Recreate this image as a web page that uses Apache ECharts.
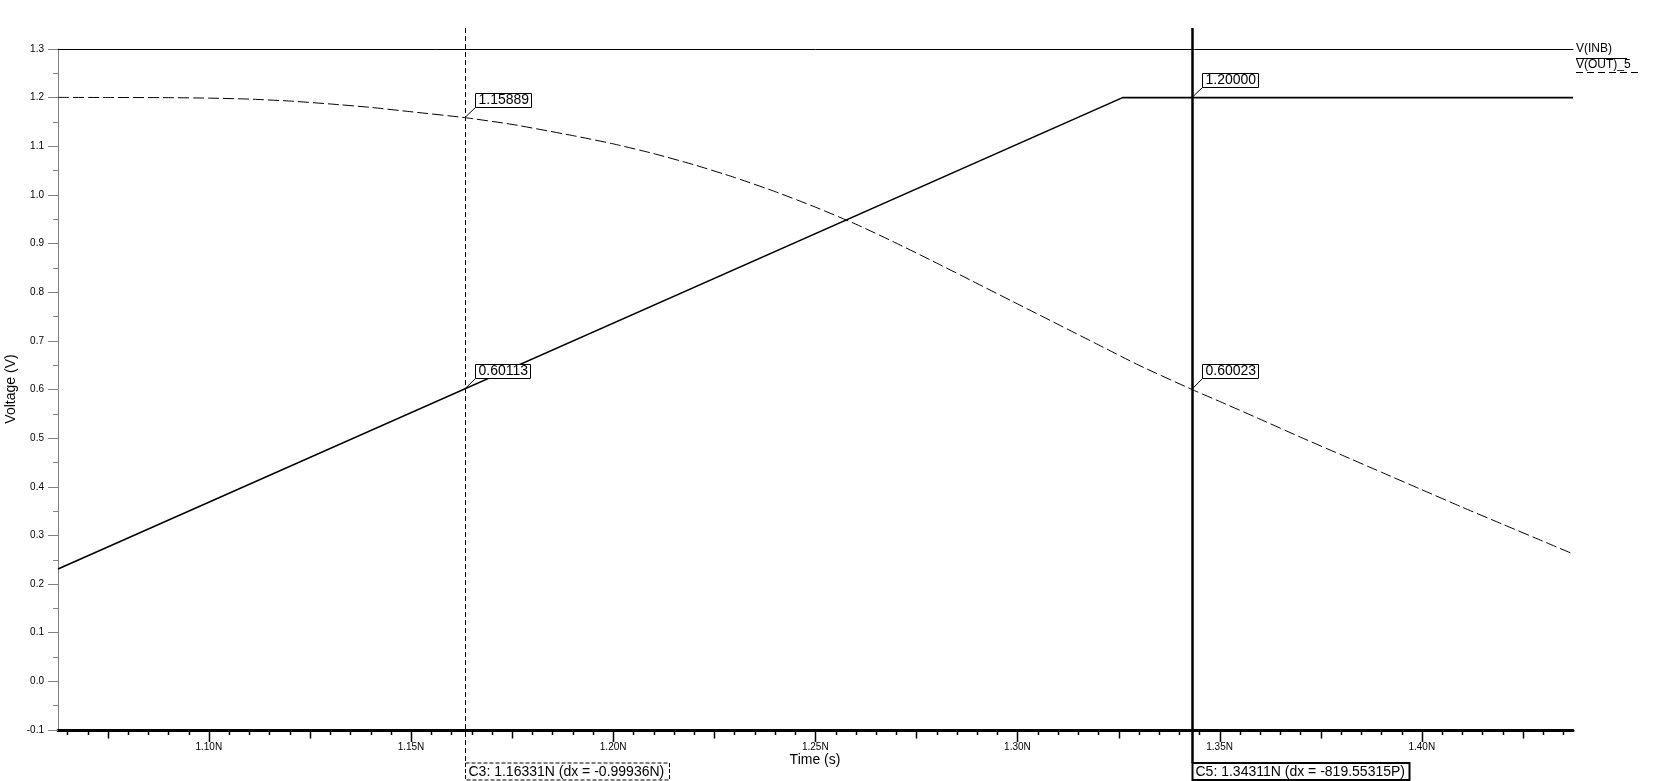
<!DOCTYPE html>
<html><head><meta charset="utf-8">
<script src="https://cdn.jsdelivr.net/npm/echarts@6/dist/echarts.min.js"></script>
<style>html,body{margin:0;padding:0;background:#fff}#c{width:1678px;height:781px}</style>
</head><body><div id="c"></div>
<script>
// ---- data ----
const timeMin = 1.0627, timeMax = 1.4374;
const voltMin = -0.1, voltMax = 1.3;
const vinbTime  = [1.0627, 1.3260, 1.4374];
const vinbValue = [0.2308, 1.2000, 1.2000];
const voutTime  = [1.0627, 1.075, 1.09, 1.10, 1.11, 1.12, 1.13, 1.14, 1.15, 1.16331, 1.175, 1.19, 1.20, 1.21, 1.22, 1.23, 1.24, 1.25, 1.26, 1.27, 1.28, 1.29, 1.30, 1.31, 1.32, 1.33, 1.34311, 1.35, 1.36, 1.37, 1.38, 1.39, 1.40, 1.41, 1.42, 1.43, 1.4374];
const voutValue = [1.2005, 1.2003, 1.2000, 1.1990, 1.1970, 1.1930, 1.1870, 1.1800, 1.1710, 1.15889, 1.1450, 1.1220, 1.1050, 1.0850, 1.0620, 1.0360, 1.0070, 0.9750, 0.9400, 0.9010, 0.8600, 0.8180, 0.7760, 0.7340, 0.6920, 0.6500, 0.60023, 0.5755, 0.5390, 0.5020, 0.4660, 0.4300, 0.3940, 0.3580, 0.3230, 0.2880, 0.2620];
const xLabelValues = [1.10, 1.15, 1.20, 1.25, 1.30, 1.35, 1.40];
const xTickLabels  = ['1.10N', '1.15N', '1.20N', '1.25N', '1.30N', '1.35N', '1.40N'];
const xMinorStep = 0.005;
const legendNames = ['V(INB)', 'V(OUT)_5'];
const cursorNames = ['C3', 'C5'];
const cursorTimes = [1.16331, 1.34311];
const cursorDx    = ['-0.99936N', '-819.55315P'];
const cursorInb   = [0.60113, 1.20000];
const cursorOut   = [1.15889, 0.60023];

// ---- helpers ----
const FONT = '"Liberation Sans", Arial, sans-serif';
const mctx = document.createElement('canvas').getContext('2d');
function measure(t, f) { mctx.font = f; return mctx.measureText(t).width; }

const tickData = [];
for (let k = Math.ceil(timeMin / xMinorStep - 1e-9); k * xMinorStep <= timeMax + 1e-9; k++) {
  const t = +(k * xMinorStep).toFixed(4);
  const li = xLabelValues.findIndex(v => Math.abs(v - t) < 1e-7);
  const kind = li >= 0 ? 2 : (k % 5 === 0 ? 1 : 0);
  tickData.push([t, kind, li]);
}

function renderTick(params, api) {
  const t = api.value(0), kind = api.value(1), li = api.value(2);
  const p = api.coord([t, voltMin]);
  const len = kind === 2 ? 12 : (kind === 1 ? 8.5 : 5);
  const x = Math.round(p[0]) + 0.5;
  const children = [{ type: 'line', shape: { x1: x, y1: p[1], x2: x, y2: p[1] + len }, style: { stroke: '#000', lineWidth: 1.5 } }];
  if (kind === 2) {
    children.push({ type: 'text', style: { text: xTickLabels[li], x: p[0], y: p[1] + 12, fill: '#000', font: '10px ' + FONT, textAlign: 'center', textVerticalAlign: 'top', align: 'center', verticalAlign: 'top' } });
  }
  return { type: 'group', children };
}

function valueLabel(children, api, t, v) {
  const p = api.coord([t, v]);
  const txt = v.toFixed(5);
  const f = '14px ' + FONT;
  const w = Math.round(measure(txt, f)) + 5;
  const bx = Math.round(p[0]) + 10.5, by = Math.round(p[1]) - 10.5;
  children.push({ type: 'line', shape: { x1: p[0], y1: p[1], x2: bx, y2: by }, style: { stroke: '#000', lineWidth: 1 } });
  children.push({ type: 'rect', shape: { x: bx, y: by - 14, width: w, height: 14 }, style: { fill: '#fff', stroke: '#000', lineWidth: 1 } });
  children.push({ type: 'text', style: { text: txt, x: bx + 3, y: by - 7, fill: '#000', font: f, textAlign: 'left', textVerticalAlign: 'middle', align: 'left', verticalAlign: 'middle' } });
}

function renderCursor(params, api) {
  const i = params.dataIndex;
  const t = api.value(0);
  const cs = params.coordSys;
  const x = Math.round(api.coord([t, 0])[0]) + 0.5;
  const top = cs.y - 21;
  const boxTop = cs.y + cs.height + 33;
  const dashed = i === 0;
  const children = [];
  children.push({ type: 'line', shape: { x1: x, y1: top, x2: x, y2: boxTop }, style: { stroke: '#000', lineWidth: dashed ? 1 : 2.5, lineDash: dashed ? [5, 3] : null } });
  const txt = cursorNames[i] + ': ' + t.toFixed(5) + 'N (dx = ' + cursorDx[i] + ')';
  const f = '14px ' + FONT;
  const w = Math.round(measure(txt, f)) + 8;
  children.push({ type: 'rect', shape: { x: x, y: boxTop, width: w, height: 17 }, style: { fill: '#fff', stroke: '#000', lineWidth: dashed ? 1 : 2, lineDash: dashed ? [4, 2] : null } });
  children.push({ type: 'text', style: { text: txt, x: x + 3, y: boxTop + 9, fill: '#000', font: f, textAlign: 'left', textVerticalAlign: 'middle', align: 'left', verticalAlign: 'middle' } });
  valueLabel(children, api, t, cursorOut[i]);
  valueLabel(children, api, t, cursorInb[i]);
  return { type: 'group', children };
}

const chart = echarts.init(document.getElementById('c'), null, { renderer: 'canvas' });
chart.setOption({
  animation: false,
  backgroundColor: '#fff',
  grid: { left: 58, right: 105, top: 49, bottom: 51, containLabel: false },
  xAxis: [
    { type: 'value', min: timeMin, max: timeMax, position: 'bottom',
      axisLine: { show: true, onZero: false, lineStyle: { color: '#000', width: 3 } },
      axisTick: { show: false }, axisLabel: { show: false }, splitLine: { show: false } },
    { type: 'value', min: timeMin, max: timeMax, position: 'top',
      axisLine: { show: true, onZero: false, lineStyle: { color: '#000', width: 1 } },
      axisTick: { show: false }, axisLabel: { show: false }, splitLine: { show: false } }
  ],
  yAxis: {
    type: 'value', min: voltMin, max: voltMax, interval: 0.1,
    axisLine: { show: true, onZero: false, lineStyle: { color: '#808080', width: 1 } },
    axisTick: { show: true, length: 10, lineStyle: { color: '#808080', width: 1 } },
    minorTick: { show: true, splitNumber: 2, length: 5, lineStyle: { color: '#808080', width: 1 } },
    axisLabel: { color: '#000', fontSize: 10, fontFamily: FONT, margin: 14, showMinLabel: true, showMaxLabel: true,
      formatter: v => v.toFixed(1) },
    splitLine: { show: false }, minorSplitLine: { show: false }
  },
  series: [
    { name: legendNames[0], type: 'line', xAxisIndex: 0, showSymbol: false, symbol: 'none',
      data: vinbTime.map((t, i) => [t, vinbValue[i]]),
      lineStyle: { color: '#000', width: 1.6 }, z: 3 },
    { name: legendNames[1], type: 'line', xAxisIndex: 0, showSymbol: false, symbol: 'none', smooth: 0.2,
      data: voutTime.map((t, i) => [t, voutValue[i]]),
      lineStyle: { color: '#000', width: 1, type: [11, 4] }, z: 3 },
    { type: 'custom', name: 'ticks', xAxisIndex: 0, clip: false, silent: true,
      data: tickData, renderItem: renderTick, z: 4 },
    { type: 'custom', name: 'cursors', xAxisIndex: 0, clip: false, silent: true,
      data: cursorTimes.map(t => [t]), renderItem: renderCursor, z: 10 }
  ],
  graphic: [
    { type: 'text', x: 1576, y: 49, style: { text: legendNames[0], fill: '#000', font: '12px ' + FONT, textAlign: 'left', textVerticalAlign: 'middle', align: 'left', verticalAlign: 'middle' } },
    { type: 'line', shape: { x1: 1576, y1: 58.5, x2: 1627, y2: 58.5 }, style: { stroke: '#000', lineWidth: 1 } },
    { type: 'text', x: 1576, y: 64.5, style: { text: legendNames[1], fill: '#000', font: '12px ' + FONT, textAlign: 'left', textVerticalAlign: 'middle', align: 'left', verticalAlign: 'middle' } },
    { type: 'line', shape: { x1: 1576, y1: 72.5, x2: 1642, y2: 72.5 }, style: { stroke: '#000', lineWidth: 1, lineDash: [7, 4] } },
    { type: 'text', x: 815, y: 760, style: { text: 'Time (s)', fill: '#000', font: '14px ' + FONT, textAlign: 'center', textVerticalAlign: 'middle', align: 'center', verticalAlign: 'middle' } },
    { type: 'text', x: 11, y: 389, rotation: Math.PI / 2, style: { text: 'Voltage (V)', fill: '#000', font: '14px ' + FONT, textAlign: 'center', textVerticalAlign: 'middle', align: 'center', verticalAlign: 'middle' } }
  ]
});
</script>
</body></html>
